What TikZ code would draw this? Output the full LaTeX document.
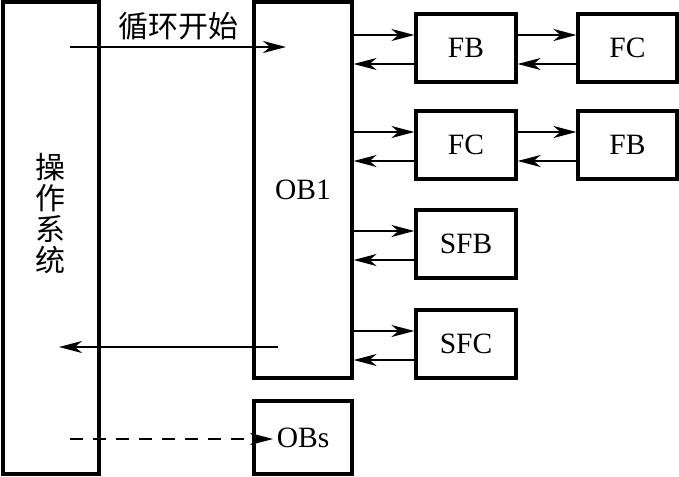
\documentclass[tikz,border=0pt]{standalone}
\usepackage{fontspec}
\setmainfont{Liberation Serif}
\newfontfamily\cjk{Noto Sans CJK SC}
\usetikzlibrary{arrows.meta}
\tikzset{
  blk/.style={draw, line width=3.2pt, inner sep=0pt, font=\fontsize{29.5}{31}\selectfont},
  arr/.style={line width=2.2pt, -{Stealth[length=23pt,width=12pt,inset=7pt]}},
}
\begin{document}
\begin{tikzpicture}[x=1pt,y=-1pt]
\useasboundingbox (0,0) rectangle (679,476);
% main boxes
\node[blk, minimum width=96pt, minimum height=472pt] (os) at (51,238) {};
\node[font=\cjk\fontsize{30}{31}\selectfont, align=center, inner sep=0pt] (ostext) at (50,214) {操\\作\\系\\统};
\node[blk, minimum width=98pt, minimum height=376pt] (ob1) at (303,190) {OB1};
\node[blk, minimum width=98pt, minimum height=73pt] (obs) at (303,437.5) {OBs};
% right blocks
\node[blk, minimum width=100pt, minimum height=68pt] (fb1) at (466,48) {FB};
\node[blk, minimum width=99pt, minimum height=68pt] (fc1) at (627.5,48) {FC};
\node[blk, minimum width=100pt, minimum height=68pt] (fc2) at (466,145) {FC};
\node[blk, minimum width=99pt, minimum height=68pt] (fb2) at (627.5,145) {FB};
\node[blk, minimum width=100pt, minimum height=68pt] (sfb) at (466,244) {SFB};
\node[blk, minimum width=100pt, minimum height=68pt] (sfc) at (466,344) {SFC};
% OB1 <-> blocks
\foreach \b in {fb1,fc2,sfb,sfc}{
  \coordinate (\b-in) at ([yshift=13pt]\b.west);
  \coordinate (\b-out) at ([yshift=-16pt]\b.west);
  \draw[arr] (ob1.east |- \b-in) -- (\b-in);
  \draw[arr] (\b-out) -- (ob1.east |- \b-out);
}
% block <-> block
\foreach \a/\c in {fb1/fc1,fc2/fb2}{
  \coordinate (\c-in) at ([yshift=13pt]\c.west);
  \coordinate (\c-out) at ([yshift=-16pt]\c.west);
  \draw[arr] (\a.east |- \c-in) -- (\c-in);
  \draw[arr] (\c-out) -- (\a.east |- \c-out);
}
% OS <-> OB1
\coordinate (s1) at (70,47);
\coordinate (e1) at (286,47);
\draw[arr] (s1) -- node[above=6pt, font=\cjk\fontsize{30}{31}\selectfont, inner sep=0pt] (lbl) {循环开始} (e1);
\coordinate (s2) at (278,347);
\coordinate (e2) at (59,347);
\draw[arr] (s2) -- (e2);
\coordinate (s3) at (70,439);
\coordinate (e3) at (273,439);
\draw[arr, dash pattern=on 13pt off 10pt] (s3) -- (e3);
\end{tikzpicture}
\end{document}
